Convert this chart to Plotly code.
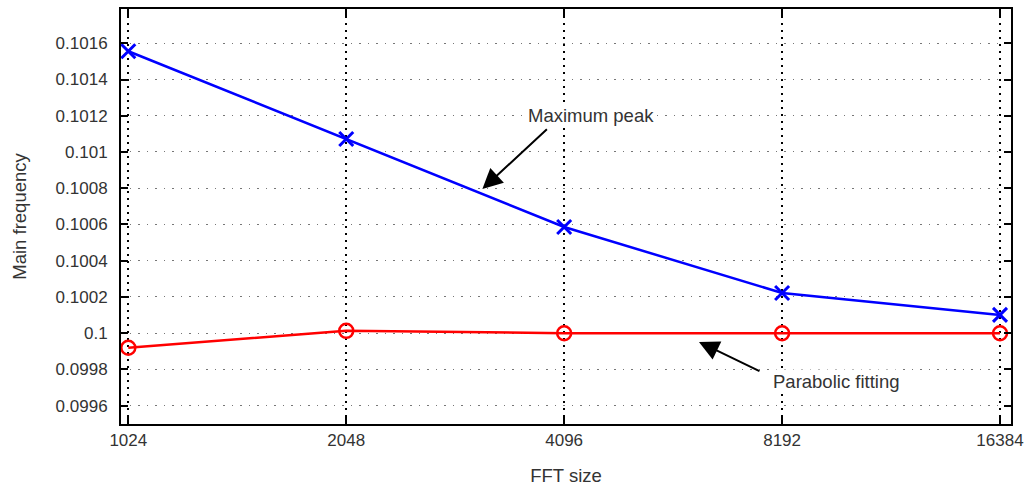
import math
import plotly.graph_objects as go

# FFT sizes and estimated main frequency for each method
fft_sizes = [1024, 2048, 4096, 8192, 16384]
max_peak = [0.101556, 0.101072, 0.100586, 0.100222, 0.100101]
parabolic = [0.099920, 0.100013, 0.100000, 0.100000, 0.100000]

x_ticks = [1024, 2048, 4096, 8192, 16384]
x_tick_text = ["1024", "2048", "4096", "8192", "16384"]
y_ticks = [0.0996, 0.0998, 0.1, 0.1002, 0.1004, 0.1006, 0.1008, 0.101, 0.1012, 0.1014, 0.1016]
y_tick_text = ["0.0996", "0.0998", "0.1", "0.1002", "0.1004", "0.1006", "0.1008",
               "0.101", "0.1012", "0.1014", "0.1016"]

FONT = "Liberation Sans, Arial, Helvetica, sans-serif"
TXT = "#333333"
LABEL_SIZE = 18.5

fig = go.Figure()

fig.add_trace(go.Scatter(
    x=fft_sizes, y=max_peak, mode="lines+markers", name="Maximum peak",
    line=dict(color="#0000ff", width=2.5),
    marker=dict(symbol="x-thin", size=14, line=dict(color="#0000ff", width=3)),
))
fig.add_trace(go.Scatter(
    x=fft_sizes, y=parabolic, mode="lines+markers", name="Parabolic fitting",
    line=dict(color="#ff0000", width=2.5),
    marker=dict(symbol="circle-open", size=14, color="#ff0000", line=dict(width=2.5)),
))

# Callout labels with arrows
fig.add_annotation(x=math.log10(3158), y=0.100796, xref="x", yref="y",
                   ax=66, ay=-61, text="", showarrow=True,
                   arrowhead=2, arrowsize=2, arrowwidth=2, arrowcolor="black")
fig.add_annotation(x=math.log10(4463), y=0.101204, xref="x", yref="y",
                   text="Maximum peak", showarrow=False, bgcolor="white",
                   font=dict(family=FONT, size=LABEL_SIZE, color=TXT))
fig.add_annotation(x=math.log10(6289), y=0.099952, xref="x", yref="y",
                   ax=62, ay=30, text="", showarrow=True,
                   arrowhead=2, arrowsize=2, arrowwidth=2, arrowcolor="black")
fig.add_annotation(x=math.log10(9731), y=0.099731, xref="x", yref="y",
                   text="Parabolic fitting", showarrow=False, bgcolor="white",
                   font=dict(family=FONT, size=LABEL_SIZE, color=TXT))

fig.update_layout(
    width=1035, height=487,
    margin=dict(l=121, r=24, t=9, b=63),
    paper_bgcolor="white", plot_bgcolor="white",
    showlegend=False,
    font=dict(family=FONT, size=17, color=TXT),
)

fig.update_xaxes(
    type="log", range=[3.0002, 4.2296],
    tickvals=x_ticks, ticktext=x_tick_text,
    showline=True, linecolor="black", linewidth=2, mirror="ticks",
    ticks="inside", ticklen=7, tickwidth=1.5, tickcolor="black",
    showgrid=True, gridcolor="black", gridwidth=2, griddash="2px,5px",
    zeroline=False, automargin=False,
    title=dict(text="FFT size", standoff=20, font=dict(size=LABEL_SIZE, color=TXT)),
    tickfont=dict(size=17, color=TXT),
)
fig.update_yaxes(
    range=[0.099499, 0.101789],
    tickvals=y_ticks, ticktext=y_tick_text,
    showline=True, linecolor="black", linewidth=2, mirror="ticks",
    ticks="inside", ticklen=7, tickwidth=1.5, tickcolor="black",
    showgrid=True, gridcolor="#777777", gridwidth=1, griddash="1.5px,7px",
    zeroline=False, automargin=False,
    ticklabelstandoff=8,
    title=dict(text="Main frequency", standoff=24, font=dict(size=LABEL_SIZE, color=TXT)),
    tickfont=dict(size=17, color=TXT),
)

fig.write_html("out.html")
